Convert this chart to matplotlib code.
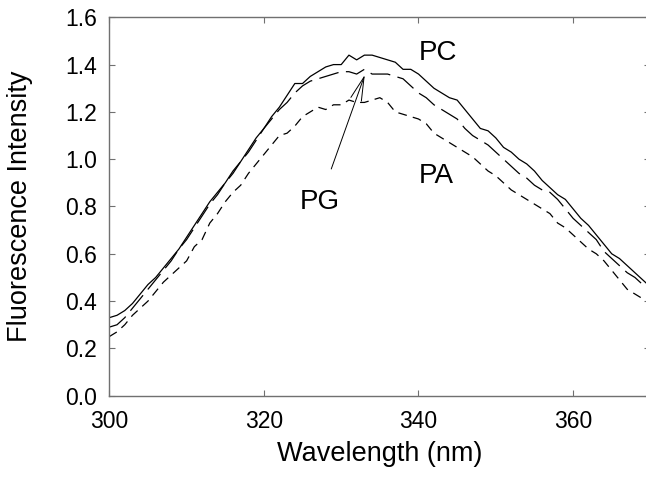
import numpy as np
import matplotlib
matplotlib.use('Agg')
import matplotlib.pyplot as plt

plt.rcParams['font.family'] = ['Liberation Sans', 'DejaVu Sans']

# wavelength grid (nm) and the three spectra
wavelength = np.arange(300, 371)

pc = [0.33, 0.34, 0.36, 0.39, 0.43, 0.47, 0.50, 0.54, 0.58, 0.62,
      0.67, 0.72, 0.77, 0.82, 0.86, 0.90, 0.95, 0.99, 1.04, 1.09,
      1.13, 1.18, 1.22, 1.27, 1.32, 1.32, 1.35, 1.37, 1.39, 1.40,
      1.40, 1.44, 1.42, 1.44, 1.44, 1.43, 1.42, 1.41, 1.38, 1.38,
      1.36, 1.33, 1.30, 1.28, 1.26, 1.25, 1.21, 1.17, 1.13, 1.12,
      1.09, 1.05, 1.03, 1.00, 0.98, 0.95, 0.91, 0.88, 0.85, 0.83,
      0.79, 0.75, 0.72, 0.68, 0.64, 0.60, 0.58, 0.55, 0.52, 0.49,
      0.46]

pg = [0.29, 0.30, 0.33, 0.37, 0.41, 0.45, 0.49, 0.53, 0.57, 0.62,
      0.66, 0.71, 0.76, 0.81, 0.85, 0.90, 0.94, 0.99, 1.03, 1.08,
      1.13, 1.17, 1.21, 1.24, 1.28, 1.31, 1.33, 1.34, 1.35, 1.36,
      1.37, 1.37, 1.36, 1.38, 1.36, 1.36, 1.36, 1.35, 1.34, 1.31,
      1.28, 1.26, 1.23, 1.21, 1.19, 1.17, 1.13, 1.10, 1.08, 1.06,
      1.03, 1.00, 0.97, 0.94, 0.92, 0.89, 0.87, 0.86, 0.83, 0.79,
      0.75, 0.72, 0.69, 0.66, 0.61, 0.58, 0.55, 0.52, 0.50, 0.47,
      0.44]

pa = [0.25, 0.27, 0.30, 0.34, 0.37, 0.40, 0.44, 0.48, 0.51, 0.54,
      0.57, 0.63, 0.66, 0.73, 0.77, 0.82, 0.86, 0.89, 0.94, 0.98,
      1.02, 1.06, 1.10, 1.11, 1.14, 1.18, 1.20, 1.22, 1.21, 1.23,
      1.23, 1.25, 1.24, 1.24, 1.25, 1.26, 1.24, 1.20, 1.19, 1.18,
      1.17, 1.15, 1.11, 1.09, 1.07, 1.05, 1.03, 1.01, 0.98, 0.95,
      0.93, 0.90, 0.87, 0.85, 0.83, 0.81, 0.79, 0.77, 0.73, 0.71,
      0.68, 0.65, 0.62, 0.60, 0.57, 0.53, 0.49, 0.45, 0.43, 0.41,
      0.39]

fig = plt.figure(figsize=(6.46, 4.79), dpi=100)
ax = fig.add_axes([0.1692, 0.1739, 0.8376, 0.79])

ax.plot(wavelength, pc, color='black', lw=0.9, label='PC')
ax.plot(wavelength, pg, color='black', lw=0.9, dashes=(16, 6), label='PG')
ax.plot(wavelength, pa, color='black', lw=0.9, dashes=(7, 5), label='PA')

ax.set_xlim(300, 370)
ax.set_ylim(0, 1.6)
ax.set_xticks([300, 320, 340, 360])
ax.set_yticks(np.arange(0, 1.61, 0.2))
ax.yaxis.set_major_formatter(matplotlib.ticker.FormatStrFormatter('%.1f'))

for s in ax.spines.values():
    s.set_color('#707070')
    s.set_linewidth(1.0)
ax.tick_params(direction='in', length=4.5, width=0.8, color='#707070',
               top=True, right=True, labelsize=16.5)
ax.tick_params(axis='x', pad=10)
ax.tick_params(axis='y', pad=9)

ax.set_xlabel('Wavelength (nm)', fontsize=19.5, labelpad=6)
ax.set_ylabel('Fluorescence Intensity', fontsize=19.5)
ax.yaxis.set_label_coords(-0.141, 0.5)

ax.text(340.0, 1.45, 'PC', fontsize=20, va='center', ha='left')
ax.text(340.0, 0.93, 'PA', fontsize=20, va='center', ha='left')
ax.annotate('PG', xy=(333.05, 1.356), xytext=(327.2, 0.82),
            fontsize=20, ha='center', va='center',
            arrowprops=dict(arrowstyle='->, head_length=0.85, head_width=0.2',
                            color='black', lw=0.7, shrinkA=13, shrinkB=0))

fig.savefig('out.png', dpi=100)
